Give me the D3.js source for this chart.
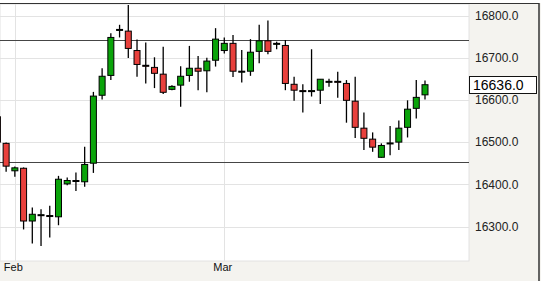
<!DOCTYPE html>
<html><head><meta charset="utf-8">
<script src="https://cdn.jsdelivr.net/npm/d3@7/dist/d3.min.js"></script>
<style>
html,body{margin:0;padding:0;background:#fff;}
svg{display:block;font-family:"Liberation Sans",Arial,sans-serif;}
</style></head>
<body><svg id="c" width="541" height="281"></svg>
<script>
// Session dates (Sun–Fri sessions)
const dates = ["01-29","01-30",
 "02-01","02-02","02-03","02-04","02-05","02-06","02-08","02-09","02-10","02-11","02-12","02-13",
 "02-15","02-16","02-17","02-18","02-19","02-20","02-22","02-23","02-24","02-25","02-26","02-27",
 "03-01","03-02","03-03","03-04","03-05","03-06","03-08","03-09","03-10","03-11","03-12","03-13",
 "03-15","03-16","03-17","03-18","03-19","03-20","03-22","03-23","03-24","03-25","03-26","03-27"];
const open  = [16560,16497,16432,16438,16313,16326,16326,16323,16401,16407,16406,16450,16611,16658,16765,16763,16717,16682,16677,16661,16625,16635,16658,16675,16669,16694,16717,16734,16666,16668,16715,16740,16732,16729,16637,16622,16620,16623,16642,16644,16639,16597,16533,16507,16464,16496,16500,16535,16580,16612];
const high  = [16575,16499,16442,16440,16345,16341,16349,16420,16416,16428,16489,16619,16675,16758,16778,16825,16743,16736,16701,16726,16635,16680,16728,16704,16700,16770,16748,16754,16718,16744,16778,16788,16738,16742,16655,16637,16720,16649,16650,16667,16647,16655,16570,16523,16497,16538,16551,16599,16647,16646];
const low   = [16490,16430,16418,16293,16260,16254,16274,16303,16398,16384,16394,16427,16601,16647,16748,16699,16655,16639,16628,16614,16623,16584,16643,16623,16618,16679,16710,16654,16641,16657,16687,16708,16720,16623,16598,16570,16608,16590,16631,16605,16546,16510,16481,16477,16463,16469,16481,16511,16556,16601];
const close = [16500,16443,16439,16313,16329,16328,16324,16412,16409,16409,16447,16609,16656,16748,16767,16722,16684,16680,16663,16618,16632,16656,16675,16668,16692,16744,16734,16668,16668,16713,16740,16715,16734,16639,16623,16620,16622,16649,16644,16642,16599,16535,16509,16488,16492,16498,16533,16578,16606,16636];
const yTicks = [16300,16400,16500,16600,16700,16800];
const monthTicks = ["02-01","03-01"];
const monthLabels = ["Feb","Mar"];
const levels = [16741,16452];
const lastPrice = 16636;

const svg = d3.select("#c");
const W = 541, H = 281;
const plot = {l:0, r:469, t:4, b:261};

svg.append("rect").attr("width",W).attr("height",H).attr("fill","#f4f3ef");
svg.append("rect").attr("x",0).attr("y",0).attr("width",W).attr("height",3).attr("fill","#fff");
svg.append("rect").attr("x",plot.l).attr("y",plot.t).attr("width",plot.r-plot.l).attr("height",plot.b-plot.t)
  .attr("fill","#fff").attr("stroke","#e2e2e2").attr("stroke-width",1);

const idx = d3.range(dates.length);
const x = d3.scaleLinear().domain([0, dates.length-1]).range([-2.6, 425.0]);
const xd = d => x(dates.indexOf(d));
const y = d3.scaleLinear().domain([16300,16800]).range([226.5,15.5]);

const g = svg.append("g");
g.selectAll(".hg").data(yTicks).join("line")
  .attr("x1",plot.l).attr("x2",plot.r)
  .attr("y1",d=>Math.round(y(d))+0.5).attr("y2",d=>Math.round(y(d))+0.5)
  .attr("stroke","#e3e3e3").attr("stroke-width",1);
g.selectAll(".vg").data(monthTicks).join("line")
  .attr("x1",d=>Math.round(xd(d))+0.5).attr("x2",d=>Math.round(xd(d))+0.5)
  .attr("y1",plot.t).attr("y2",plot.b)
  .attr("stroke","#e3e3e3").attr("stroke-width",1);

g.selectAll(".lv").data(levels).join("line")
  .attr("x1",plot.l).attr("x2",plot.r)
  .attr("y1",d=>Math.round(y(d))+0.5).attr("y2",d=>Math.round(y(d))+0.5)
  .attr("stroke","#454545").attr("stroke-width",1.2);

const bw = 6;
const cg = svg.append("g");
cg.selectAll(".wk").data(idx).join("line")
  .attr("x1",i=>x(i)).attr("x2",i=>x(i))
  .attr("y1",i=>y(high[i])).attr("y2",i=>y(low[i]))
  .attr("stroke","#000").attr("stroke-width",1.3);
cg.selectAll(".bd").data(idx).join("rect")
  .attr("x",i=>x(i)-bw/2)
  .attr("y",i=>y(Math.max(open[i],close[i])))
  .attr("width",bw)
  .attr("height",i=>Math.max(1, Math.abs(y(open[i])-y(close[i]))))
  .attr("fill",i=>close[i]>=open[i]?"#0aa40a":"#e8403c")
  .attr("stroke","#000").attr("stroke-width",1);

svg.append("line").attr("x1",0).attr("x2",539).attr("y1",3.5).attr("y2",3.5).attr("stroke","#333").attr("stroke-width",1.2);
svg.append("line").attr("x1",539).attr("x2",539).attr("y1",3).attr("y2",H).attr("stroke","#333").attr("stroke-width",1.5);

const yAxis = d3.axisRight(y).tickValues(yTicks).tickSize(0).tickPadding(0).tickFormat(d3.format(".1f"));
const ya = svg.append("g").attr("transform",`translate(475,0)`).call(yAxis);
ya.select(".domain").remove();
ya.selectAll("text").attr("font-size",12).attr("fill","#222").attr("font-family","Liberation Sans, Arial, sans-serif");

const xAxis = d3.axisBottom(d3.scalePoint().domain(dates).range([x(0), x(dates.length-1)]))
  .tickValues(monthTicks).tickSize(0).tickPadding(0)
  .tickFormat(d => monthLabels[monthTicks.indexOf(d)]);
const xa = svg.append("g").attr("transform",`translate(-2,263)`).call(xAxis);
xa.select(".domain").remove();
xa.selectAll("text").attr("font-size",11).attr("fill","#111").attr("font-family","Liberation Sans, Arial, sans-serif");

const ly = y(lastPrice);
svg.append("rect").attr("x",469.5).attr("y",Math.round(ly)-8.5).attr("width",67).attr("height",17)
  .attr("fill","#fff").attr("stroke","#111").attr("stroke-width",1);
svg.append("text").attr("x",473).attr("y",ly+5.5).attr("font-size",14).attr("fill","#000")
  .text(d3.format(".1f")(lastPrice));
</script></body></html>
